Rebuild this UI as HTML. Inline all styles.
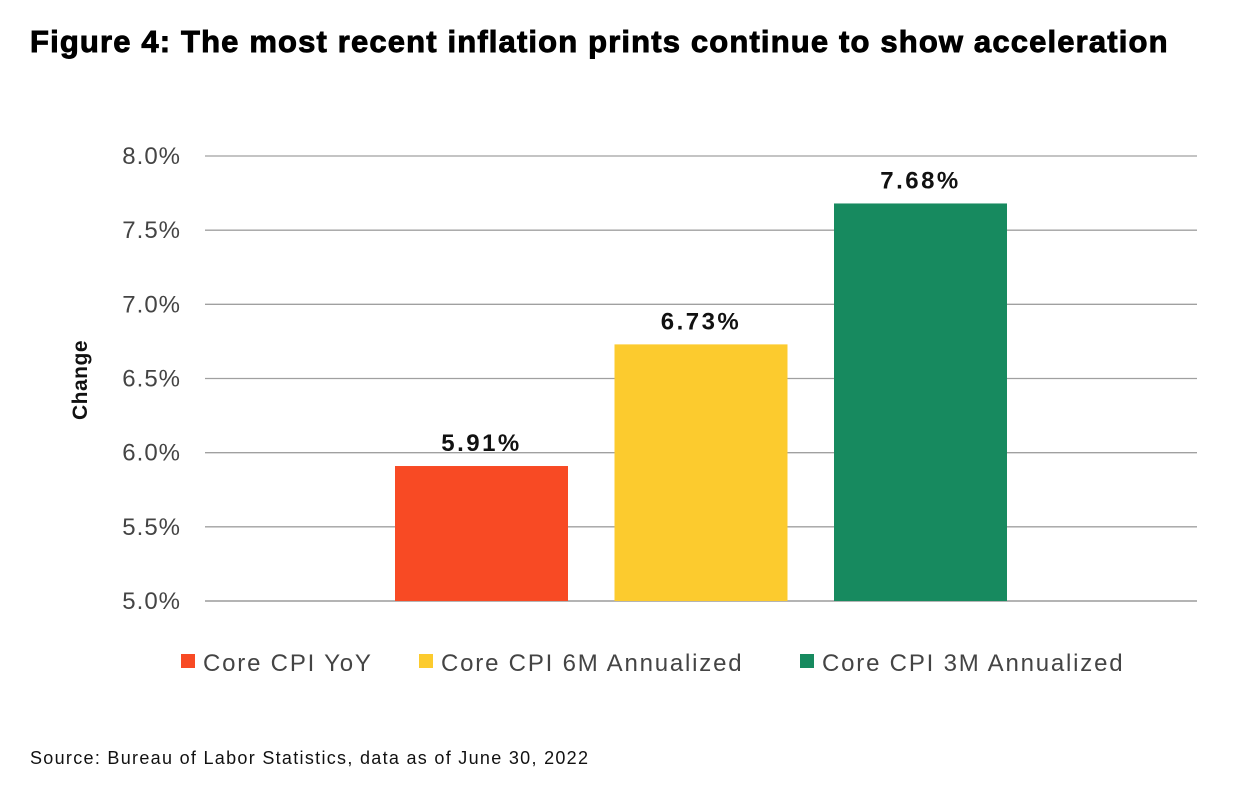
<!DOCTYPE html>
<html><head><meta charset="utf-8"><style>
body{margin:0;width:1246px;height:806px;background:#fff;overflow:hidden;font-family:"Liberation Sans",sans-serif}
#title{position:absolute;left:30px;top:24px;font-size:31px;font-weight:900;color:#000;letter-spacing:1.15px;-webkit-text-stroke:0.9px #000}
#source{position:absolute;left:30px;top:748px;font-size:18px;color:#111;letter-spacing:1.3px}
svg{position:absolute;left:0;top:0}
</style></head><body>
<div id="title">Figure 4: The most recent inflation prints continue to show acceleration</div>
<svg id="chart" width="1246" height="806"></svg>
<div id="source">Source: Bureau of Labor Statistics, data as of June 30, 2022</div>
<script>
const series=["Core CPI YoY","Core CPI 6M Annualized","Core CPI 3M Annualized"];
const values=[5.91,6.73,7.68];
const labels=["5.91%","6.73%","7.68%"];
const ticks=[5.0,5.5,6.0,6.5,7.0,7.5,8.0];
const tickLabels=["5.0%","5.5%","6.0%","6.5%","7.0%","7.5%","8.0%"];
const colors=["#F84A24","#FCCB2E","#178A5F"];
const NS="http://www.w3.org/2000/svg";
const svg=document.getElementById('chart');
const x0=205,x1=1197,yTop=156,yBot=601,vMin=5,vMax=8;
const y=v=>yBot-(v-vMin)/(vMax-vMin)*(yBot-yTop);
const barW=173,step=219.5,cx=(x0+x1)/2;
const xc=i=>cx+(i-(values.length-1)/2)*step;
function mk(t,a,txt){const e=document.createElementNS(NS,t);for(const k in a)e.setAttribute(k,a[k]);if(txt!=null)e.textContent=txt;svg.appendChild(e);return e;}
ticks.forEach((t,i)=>{
 const g=mk('line',{x1:x0,x2:x1,y1:y(t),y2:y(t),stroke:i==0?'#888':'#a0a0a0','stroke-width':1.3});
 
 
 const l=mk('text',{x:181,y:y(t)+8,'text-anchor':'end','font-size':24,'letter-spacing':1,fill:'#444'},tickLabels[i]);
 
 
});
values.forEach((v,i)=>{
 const r=mk('rect',{x:xc(i)-barW/2,y:y(v),width:barW,height:yBot-y(v),fill:colors[i]});
 
 
 const t=mk('text',{x:xc(i),y:y(v)-15,'text-anchor':'middle','font-size':24,'font-weight':'bold','letter-spacing':2.5,fill:'#111'},labels[i]);
 
 
});
const yt=mk('text',{x:0,y:0,transform:'translate(87,380) rotate(-90)','text-anchor':'middle','font-size':21,'font-weight':'bold','letter-spacing':0.5,fill:'#111'},'Change');


const legX=[181,419,800];
series.forEach((s,i)=>{
 const r=mk('rect',{x:legX[i],y:654,width:14,height:14,fill:colors[i]});
 
 
 const t=mk('text',{x:legX[i]+22,y:671,'font-size':24,'letter-spacing':1.8,fill:'#444'},s);
 
 
});
</script>
</body></html>
